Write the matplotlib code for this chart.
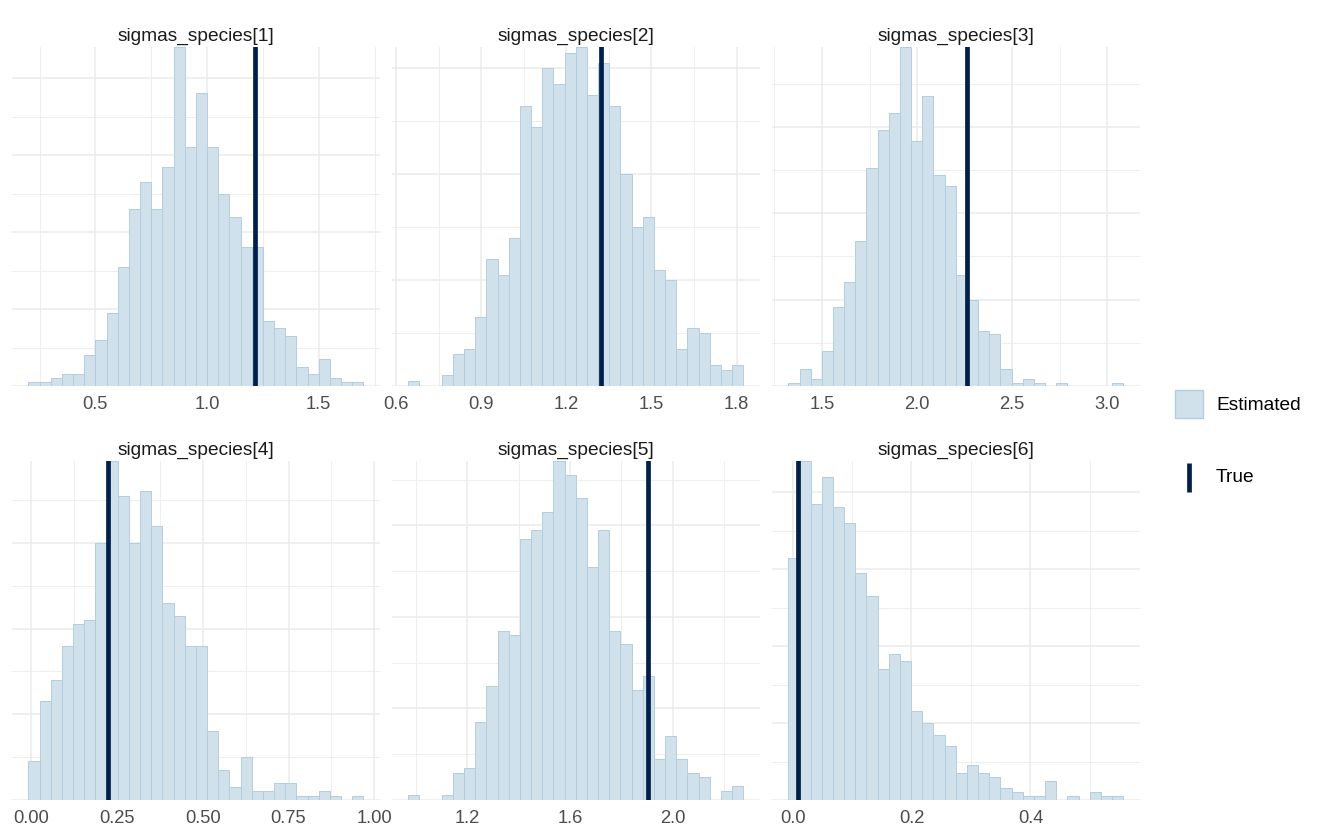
import numpy as np
import matplotlib
matplotlib.use('Agg')
import matplotlib.pyplot as plt
from matplotlib.patches import Rectangle
from matplotlib.lines import Line2D
from matplotlib.ticker import MultipleLocator, FormatStrFormatter

plt.rcParams['font.family'] = ['Liberation Sans', 'DejaVu Sans']

# parameter names and true values
params = ['sigmas_species[1]', 'sigmas_species[2]', 'sigmas_species[3]',
          'sigmas_species[4]', 'sigmas_species[5]', 'sigmas_species[6]']
true_vals = [1.216, 1.322, 2.264, 0.225, 1.905, 0.0095]

# histogram range (outer bin edges), 30 bins each
bin_lo = [0.200, 0.643, 1.323, -0.008, 0.970, -0.007]
bin_hi = [1.700, 1.823, 3.084, 0.968, 2.275, 0.556]

# counts per bin (800 draws)
counts_1 = [1, 1, 2, 3, 3, 8, 12, 19, 31, 46, 53, 46, 57, 88, 62,
            76, 62, 50, 44, 36, 36, 17, 15, 13, 5, 3, 7, 2, 1, 1]
counts_2 = [1, 0, 0, 2, 6, 7, 13, 24, 21, 28, 53, 49, 60, 57, 63,
            64, 55, 61, 53, 40, 30, 32, 22, 20, 7, 11, 10, 4, 3, 4]
counts_3 = [1, 5, 2, 10, 23, 30, 42, 63, 74, 79, 98, 71, 84, 61, 58,
            32, 25, 16, 15, 5, 1, 2, 1, 0, 1, 0, 0, 0, 0, 1]
counts_4 = [9, 23, 28, 36, 41, 42, 60, 79, 71, 60, 72, 64, 46, 43, 36,
            36, 16, 7, 3, 10, 2, 2, 4, 4, 1, 1, 2, 1, 0, 1]
counts_5 = [1, 0, 0, 1, 6, 7, 17, 25, 37, 36, 57, 59, 63, 74, 71,
            66, 51, 59, 37, 34, 24, 27, 9, 14, 9, 6, 5, 0, 2, 3]
counts_6 = [63, 88, 77, 84, 76, 72, 59, 53, 34, 38, 36, 23, 20, 17, 14,
            7, 9, 7, 6, 3, 2, 1, 1, 5, 0, 1, 0, 2, 1, 1]
all_counts = [counts_1, counts_2, counts_3, counts_4, counts_5, counts_6]

# axis styling per panel
x_step = [0.5, 0.3, 0.5, 0.25, 0.4, 0.2]
x_dec = [1, 1, 1, 2, 1, 1]
y_step = [20, 20, 25, 20, 20, 20]

FILL = '#d1e1ec'
EDGE = '#b3cde0'
DARK = '#011f4b'
GRID = '#ebebeb'

W, H = 1320, 840
fig = plt.figure(figsize=(W / 100, H / 100), dpi=100)

col_left = [11.7, 391.5, 771.6]
row_top = [47.3, 461.3]
pw, ph = 368.4, 338.7

for i in range(6):
    r, c = divmod(i, 3)
    ax = fig.add_axes([col_left[c] / W, 1 - (row_top[r] + ph) / H, pw / W, ph / H])
    cnt = np.array(all_counts[i])
    edges = np.linspace(bin_lo[i], bin_hi[i], len(cnt) + 1)
    wid = edges[1] - edges[0]
    ax.bar(edges[:-1], cnt, width=wid, align='edge', color=FILL,
           edgecolor=EDGE, linewidth=0.7, zorder=2)
    ax.axvline(true_vals[i], color=DARK, lw=3.4, zorder=3)

    span = bin_hi[i] - bin_lo[i]
    ax.set_xlim(bin_lo[i] - 0.05 * span, bin_hi[i] + 0.05 * span)
    ax.set_ylim(0, cnt.max())

    ax.xaxis.set_major_locator(MultipleLocator(x_step[i]))
    ax.xaxis.set_minor_locator(MultipleLocator(x_step[i] / 2))
    ax.xaxis.set_major_formatter(FormatStrFormatter('%.{}f'.format(x_dec[i])))
    ax.yaxis.set_major_locator(MultipleLocator(y_step[i]))
    ax.yaxis.set_minor_locator(MultipleLocator(y_step[i] / 2))

    ax.set_axisbelow(True)
    ax.grid(which='major', color=GRID, lw=1.1)
    ax.grid(which='minor', color=GRID, lw=0.6)
    ax.tick_params(which='both', length=0)
    ax.tick_params(axis='x', pad=7.5, labelsize=13.2, labelcolor='#4d4d4d')
    ax.tick_params(axis='y', labelleft=False)
    for s in ax.spines.values():
        s.set_visible(False)
    ax.set_title(params[i], fontsize=13.8, color='#1a1a1a', pad=5)

# legend
def fx(x):
    return x / W

def fy(y):
    return 1 - y / H

fig.patches.append(Rectangle((fx(1175), fy(418)), fx(28), 28 / H,
                             facecolor=FILL, edgecolor=EDGE, lw=1.0,
                             transform=fig.transFigure, figure=fig))
fig.text(fx(1216), fy(405), 'Estimated', fontsize=13.8, va='center', ha='left')
fig.lines.append(Line2D([fx(1189), fx(1189)], [fy(463), fy(492)], color=DARK,
                        lw=3.4, solid_capstyle='butt',
                        transform=fig.transFigure, figure=fig))
fig.text(fx(1216), fy(478), 'True', fontsize=13.8, va='center', ha='left')

fig.savefig('out.png', dpi=100, facecolor='white')
